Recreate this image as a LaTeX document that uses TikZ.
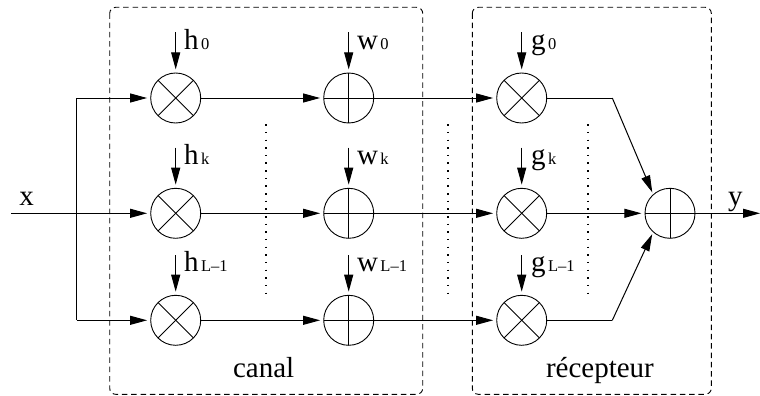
\documentclass[tikz,border=0pt]{standalone}
\usepackage{fontspec}
\setmainfont{Liberation Serif}
\usetikzlibrary{arrows.meta}
\newcommand{\subt}[1]{\kern2.5pt{\fontsize{16.5}{16.5}\selectfont #1}}
\tikzset{
  every node/.style={font=\fontsize{29}{29}\selectfont},
  mult/.style={circle,draw,line width=0.9pt,minimum size=50pt,inner sep=0pt,outer sep=0pt,
    path picture={\draw[line width=0.9pt] (path picture bounding box.north west)--(path picture bounding box.south east);
                  \draw[line width=0.9pt] (path picture bounding box.north east)--(path picture bounding box.south west);}},
  adder/.style={circle,draw,line width=0.9pt,minimum size=50pt,inner sep=0pt,outer sep=0pt,
    path picture={\draw[line width=0.9pt] (path picture bounding box.north)--(path picture bounding box.south);
                  \draw[line width=0.9pt] (path picture bounding box.west)--(path picture bounding box.east);}},
  wire/.style={line width=1pt,line join=miter},
  sig/.style={wire,-{Triangle[length=17pt,width=9pt]},shorten >=3.6pt},
  lab/.style={anchor=base west,inner sep=0pt,outer sep=0pt},
  region/.style={draw,line width=0.9pt,dash pattern=on 5.5pt off 3.8pt,rounded corners=6pt},
  dots/.style={line width=1.5pt,dash pattern=on 1.5pt off 6.15pt},
}
\begin{document}
\begin{tikzpicture}[x=1pt,y=-1pt]
\useasboundingbox (0,0) rectangle (760,396);
\fill[white] (0,0) rectangle (760,396);
% regions
\draw[region] (109.7,7.3) rectangle (422.7,394.3);
\draw[region] (472.3,7.3) rectangle (711.3,394.3);
% operators
\foreach \n/\y in {a/98,b/213.3,c/320.3}{
  \node[mult]  (m\n) at (175.7,\y) {};
  \node[adder] (s\n) at (348.7,\y) {};
  \node[mult]  (r\n) at (521.7,\y) {};
}
\node[adder] (sum) at (670,213.3) {};
% coordinates
\coordinate (xin) at (11,213.3);
\coordinate (bus1) at (76.7,98);
\coordinate (bus3) at (76.7,320.3);
\coordinate (bendt) at (612.3,98);
\coordinate (bendb) at (612.3,320.3);
\coordinate (yout) at (763.6,213.3);
% main connectors
\draw[wire] (bus1) -- (bus3);
\draw[sig] (bus1) -- (ma);
\draw[sig] (xin) -- (mb);
\draw[sig] (bus3) -- (mc);
\foreach \n in {a,b,c}{
  \draw[sig] (m\n) -- (s\n);
  \draw[sig] (s\n) -- (r\n);
}
\draw[sig] (rb) -- (sum);
\draw[wire] (ra) -- (bendt);
\draw[wire] (rc) -- (bendb);
\draw[sig,shorten >=2.5pt] (bendt) -- (sum.132);
\draw[sig,shorten >=2.5pt] (bendb) -- (sum.228);
\draw[sig] (sum) -- (yout);
% inputs from above
\foreach \n/\t in {a/32.3,b/147.7,c/255}{
  \coordinate (hi\n) at (175.7,\t);
  \coordinate (wi\n) at (348.7,\t);
  \coordinate (gi\n) at (521.7,\t);
  \draw[sig] (hi\n) -- (m\n);
  \draw[sig] (wi\n) -- (s\n);
  \draw[sig] (gi\n) -- (r\n);
}
% dotted separators
\foreach \x/\k in {266/p,448/q,588/t}{
  \coordinate (\k1) at (\x,124.2);
  \coordinate (\k2) at (\x,293);
  \draw[dots] (\k1) -- (\k2);
}
% labels
\node[lab] (lh0) at (184,49.3) {h\subt{0}};
\node[lab] (lhk) at (184,164) {h\subt{k}};
\node[lab] (lhl) at (184,271) {h\subt{L–1}};
\node[lab] (lw0) at (357,49.3) {w\subt{0}};
\node[lab] (lwk) at (357,164) {w\subt{k}};
\node[lab] (lwl) at (357,271) {w\subt{L–1}};
\node[lab] (lg0) at (531,49.3) {g\subt{0}};
\node[lab] (lgk) at (531,164) {g\subt{k}};
\node[lab] (lgl) at (531,271) {g\subt{L–1}};
\node[lab] (lx) at (19.5,205) {x};
\node[lab] (ly) at (728,205) {y};
\node[lab] (canal) at (233,377.7) {canal};
\node[lab] (recep) at (546,377.7) {récepteur};
\end{tikzpicture}
\end{document}
